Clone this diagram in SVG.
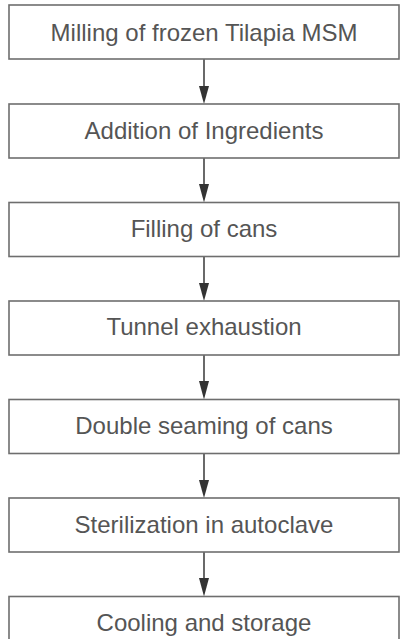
<svg xmlns="http://www.w3.org/2000/svg" width="400" height="639" viewBox="0 0 400 639">
<style>
.box{fill:#fff;stroke:#6e6e6e;stroke-width:1.6}
.lbl{font-family:"Liberation Sans",Arial,sans-serif;font-size:24px;fill:#555;text-anchor:middle}
.con{stroke:#444;stroke-width:1.6;fill:none}
.head{fill:#333}
</style>
<rect width="400" height="639" fill="#fff"/>
<g id="connectors">
<line class="con" x1="204" y1="59" x2="204" y2="90"/><polygon class="head" points="199,86 209,86 204,104"/>
<line class="con" x1="204" y1="158" x2="204" y2="188"/><polygon class="head" points="199,184 209,184 204,202.5"/>
<line class="con" x1="204" y1="256.5" x2="204" y2="287"/><polygon class="head" points="199,283 209,283 204,301"/>
<line class="con" x1="204" y1="355" x2="204" y2="385"/><polygon class="head" points="199,381 209,381 204,399.5"/>
<line class="con" x1="204" y1="453.5" x2="204" y2="484"/><polygon class="head" points="199,480 209,480 204,498"/>
<line class="con" x1="204" y1="552" x2="204" y2="582"/><polygon class="head" points="199,578 209,578 204,596.5"/>
</g>
<g id="n1"><rect class="box" x="9" y="5" width="390" height="54"/><text class="lbl" x="204" y="41">Milling of frozen Tilapia MSM</text></g>
<g id="n2"><rect class="box" x="9" y="104" width="390" height="54"/><text class="lbl" x="204" y="139">Addition of Ingredients</text></g>
<g id="n3"><rect class="box" x="9" y="202.5" width="390" height="54"/><text class="lbl" x="204" y="237">Filling of cans</text></g>
<g id="n4"><rect class="box" x="9" y="301" width="390" height="54"/><text class="lbl" x="204" y="335">Tunnel exhaustion</text></g>
<g id="n5"><rect class="box" x="9" y="399.5" width="390" height="54"/><text class="lbl" x="204" y="434">Double seaming of cans</text></g>
<g id="n6"><rect class="box" x="9" y="498" width="390" height="54"/><text class="lbl" x="204" y="533">Sterilization in autoclave</text></g>
<g id="n7"><rect class="box" x="9" y="596.5" width="390" height="54"/><text class="lbl" x="204" y="631">Cooling and storage</text></g>
</svg>
